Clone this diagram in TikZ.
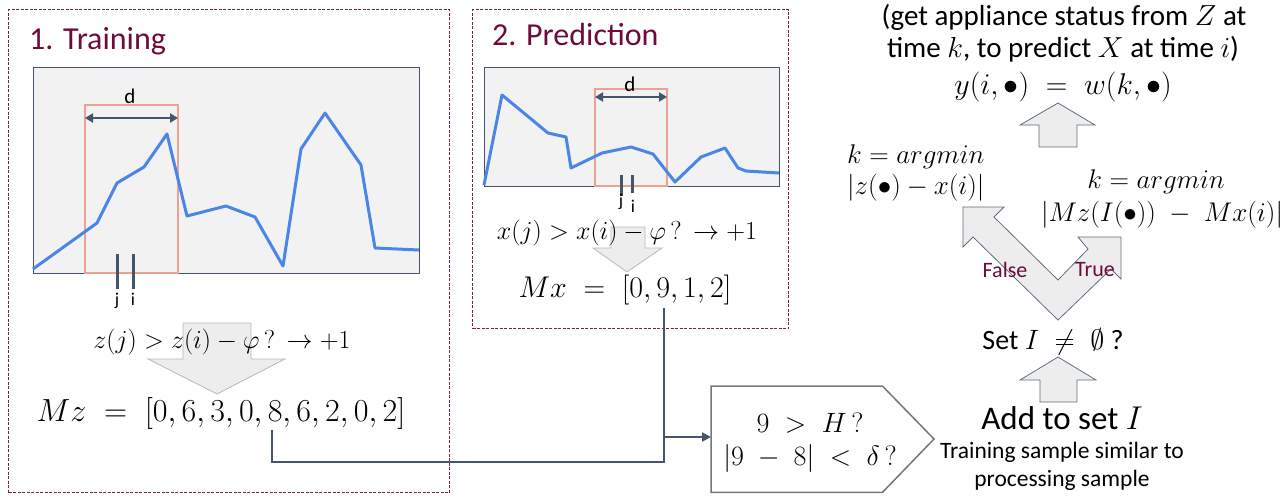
\RequirePackage{fix-cm}
\documentclass[tikz,border=0pt]{standalone}
\usepackage[no-math]{fontspec}
\setmainfont{Carlito}
\usepackage{amssymb}
\usetikzlibrary{arrows.meta}
\definecolor{maroon}{HTML}{6E0B3D}
\definecolor{panelc}{HTML}{7A1E48}
\definecolor{slate}{HTML}{44546A}
\definecolor{chartbg}{HTML}{F2F2F2}
\definecolor{lineblue}{HTML}{4A86E8}
\definecolor{salmon}{HTML}{EBA194}
\definecolor{arrowfill}{HTML}{EDEDED}
\definecolor{pentc}{HTML}{767676}
\begin{document}
\begin{tikzpicture}[x=1pt,y=-1pt,
  panel/.style={draw=panelc, line width=1.2pt, dash pattern=on 3pt off 1.5pt, anchor=north west, inner sep=0pt},
  chart/.style={draw=slate, fill=chartbg, line width=1pt, anchor=north west, inner sep=0pt},
  sig/.style={draw=lineblue, line width=3pt, line join=round},
  win/.style={draw=salmon, line width=1.3pt},
  darr/.style={draw=slate, line width=2.5pt, {Triangle[length=8pt,width=9pt]}-{Triangle[length=8pt,width=9pt]}},
  tickmk/.style={draw=slate, line width=3pt},
  garrow/.style={fill=arrowfill, draw=gray!55, line width=0.8pt},
  barrow/.style={fill=arrowfill, draw=slate!85, line width=0.8pt},
  conn/.style={draw=slate, line width=2.5pt},
  title/.style={text=maroon, font=\fontsize{32}{38}\selectfont, anchor=base west, inner sep=0pt},
  lbl/.style={font=\fontsize{21}{24}\selectfont, inner sep=0pt},
  smlbl/.style={font=\fontsize{18}{20}\selectfont, inner sep=0pt},
  formula/.style={font=\fontsize{26}{30}\selectfont, inner sep=0pt},
  bigformula/.style={font=\fontsize{30}{34}\selectfont, inner sep=0pt},
  txt/.style={font=\fontsize{29}{34}\selectfont, inner sep=0pt},
  tf/.style={text=maroon, font=\fontsize{22}{26}\selectfont, inner sep=0pt},
  pentbody/.style={minimum width=171pt, minimum height=106pt, inner sep=0pt}
]
\useasboundingbox (0,0) rectangle (1287,496);

% ---------- Training panel ----------
\node[panel, minimum width=441pt, minimum height=483pt] (train) at (8,9) {};
\node[title] (ttrain) at (29,49) {1. Training};
\node[chart, minimum width=386pt, minimum height=206pt] (chart1) at (33,67) {};
\draw[win] (85,105) rectangle (178,273);
\draw[sig] (33,269) -- (97,223) -- (117,183) -- (144,167) -- (167,134) -- (187,216) -- (226,206) -- (255,217) -- (283,266) -- (301,149) -- (325,113) -- (361,165) -- (375,248) -- (419,250);
\coordinate (d1l) at (85,118);
\coordinate (d1r) at (178,118);
\draw[darr] (d1l) -- (d1r);
\node[lbl] (d1) at (130,96) {d};
\coordinate (j1t) at (117,254); \coordinate (j1b) at (117,289);
\coordinate (i1t) at (133,254); \coordinate (i1b) at (133,289);
\draw[tickmk] (j1t) -- (j1b);
\draw[tickmk] (i1t) -- (i1b);
\node[smlbl] (j1) at (117,301) {j};
\node[smlbl] (i1) at (133,299) {i};
\draw[garrow] (183,323) -- (251,323) -- (251,359) -- (285,359) -- (217,394) -- (148,359) -- (183,359) -- cycle;
\node[formula] (f1) at (222,342) {$z(j) > z(i) - \varphi\,?\, \rightarrow +1$};
\node[bigformula, font=\fontsize{32}{36}\selectfont] (mz) at (221,413) {$Mz\;=\;[0, 6, 3, 0, 8, 6, 2, 0, 2]$};

% ---------- Prediction panel ----------
\node[panel, minimum width=316pt, minimum height=319pt] (pred) at (472,9) {};
\node[title] (tpred) at (492,45) {2. Prediction};
\node[chart, minimum width=295pt, minimum height=119pt] (chart2) at (484,67) {};
\draw[win] (595,89) rectangle (667,186);
\draw[sig] (484,185) -- (502,95) -- (548,133) -- (566,137) -- (571,168) -- (602,153) -- (631,147) -- (653,154) -- (675,182) -- (701,157) -- (725,148) -- (738,168) -- (746,171) -- (779,173);
\coordinate (d2l) at (595,97);
\coordinate (d2r) at (667,97);
\draw[darr] (d2l) -- (d2r);
\node[lbl] (d2) at (630,84) {d};
\coordinate (j2t) at (621,175); \coordinate (j2b) at (621,196);
\coordinate (i2t) at (632,175); \coordinate (i2b) at (632,193);
\draw[tickmk] (j2t) -- (j2b);
\draw[tickmk] (i2t) -- (i2b);
\node[smlbl] (j2) at (621,202) {j};
\node[smlbl] (i2) at (633,206) {i};
\draw[garrow] (611,227) -- (645,227) -- (645,248) -- (662,248) -- (627,272) -- (593,248) -- (611,248) -- cycle;
\node[formula] (f2) at (627,233) {$x(j) > x(i) - \varphi\,?\, \rightarrow +1$};
\node[bigformula] (mx) at (625,290) {$Mx\;=\;[0, 9, 1, 2]$};

% ---------- Comparison ----------
\node[pentbody, anchor=north west] (pent) at (711,386) {};
\draw[draw=pentc, line width=1.5pt, fill=white] (pent.north west) -- (pent.north east) -- (934,439) -- (pent.south east) -- (pent.south west) -- cycle;
\node[formula, font=\fontsize{28}{32}\selectfont] (p1) at (810,423) {$9\;>\;H\,?$};
\node[formula, font=\fontsize{28}{32}\selectfont] (p2) at (810,458) {$|9\;-\;8|\;<\;\delta\,?$};

\coordinate (eight) at (272,430);
\coordinate (nine) at (664,308);
\coordinate (low) at (0,462);
\coordinate (arrin) at (0,437);
\draw[conn] (eight) -- (eight |- low) -- (nine |- low) -- (nine);
\draw[conn, -{Triangle[length=9pt,width=9pt]}] (nine |- arrin) -- (pent.west |- arrin);

% ---------- Right column ----------
\node[font=\fontsize{33}{38}\selectfont, inner sep=0pt] (add) at (1062,418) {Add to set $I$};
\node[font=\fontsize{23.5}{27}\selectfont, inner sep=0pt] (sim1) at (1062,452) {Training sample similar to};
\node[font=\fontsize{23.5}{27}\selectfont, inner sep=0pt] (sim2) at (1062,480) {processing sample};
\draw[barrow] (1040,402) -- (1077,402) -- (1077,380) -- (1096,380) -- (1058,357) -- (1020,380) -- (1040,380) -- cycle;
\node[font=\fontsize{28}{32}\selectfont, inner sep=0pt] (set) at (1053,342) {Set $I\;\neq\;\emptyset$ ?};

\draw[barrow] (963,207) -- (1004,207) -- (994,217) -- (1058,280) -- (1088,249) -- (1078,237) -- (1121,237) -- (1121,279) -- (1111,269) -- (1058,320) -- (973,237) -- (963,247) -- cycle;
\node[tf] (false) at (1005,270) {False};
\node[tf] (true) at (1095,270) {True};

\node[formula, anchor=west, font=\fontsize{27}{30}\selectfont] (kl1) at (847,157) {$k = argmin$};
\node[formula, anchor=west, font=\fontsize{27}{30}\selectfont] (kl2) at (847,188) {$|z(\bullet) - x(i)|$};
\node[formula, font=\fontsize{27}{30}\selectfont] (kr1) at (1156,182) {$k = argmin$};
\node[formula, font=\fontsize{27}{30}\selectfont] (kr2) at (1162,215) {$|Mz(I(\bullet))\;-\;Mx(i)|$};

\draw[barrow] (1039,147) -- (1077,147) -- (1077,125) -- (1095,125) -- (1058,103) -- (1020,125) -- (1039,125) -- cycle;
\node[bigformula] (yw) at (1063,87) {$y(i,\bullet)\;=\;w(k,\bullet)$};
\node[txt] (top1) at (1064,17) {(get appliance status from $Z$ at};
\node[txt] (top2) at (1063,49) {time $k$, to predict $X$ at time $i$)};
\end{tikzpicture}
\end{document}
